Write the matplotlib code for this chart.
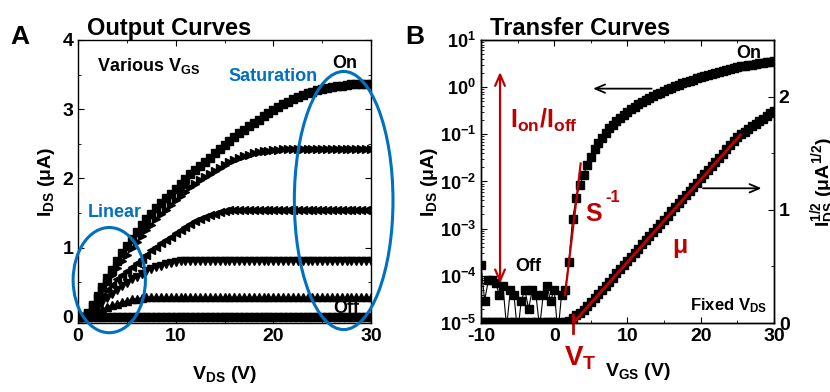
import numpy as np
import matplotlib
matplotlib.use("Agg")
import matplotlib.pyplot as plt
from matplotlib.patches import Ellipse
from matplotlib.ticker import LogLocator, FixedLocator, FuncFormatter, NullFormatter

plt.rcParams['font.family'] = ['Liberation Sans', 'DejaVu Sans']
plt.rcParams['font.weight'] = 'bold'
plt.rcParams['mathtext.fontset'] = 'custom'
plt.rcParams['mathtext.rm'] = 'Liberation Sans:bold'
plt.rcParams['mathtext.bf'] = 'Liberation Sans:bold'
plt.rcParams['mathtext.it'] = 'Liberation Sans:bold'
plt.rcParams['axes.unicode_minus'] = False
plt.rcParams['axes.linewidth'] = 1.0

RED = '#c00000'
BLUE = '#0070c0'

# ---- panel A: output curves, V_DS from 0 to 30 V in 0.5 V steps
vds = np.arange(0, 30.5, 0.5)

ids_on = [0, 0, 0.05, 0.17, 0.30, 0.43, 0.56, 0.68, 0.80, 0.92, 1.03, 1.13, 1.23, 1.32, 1.41,
          1.49, 1.57, 1.64, 1.71, 1.78, 1.85, 1.92, 1.99, 2.06, 2.12, 2.18, 2.24, 2.30, 2.36,
          2.42, 2.48, 2.54, 2.60, 2.65, 2.70, 2.75, 2.80, 2.85, 2.90, 2.95, 2.99, 3.03, 3.07,
          3.11, 3.14, 3.17, 3.20, 3.23, 3.25, 3.27, 3.29, 3.31, 3.32, 3.33, 3.34, 3.35, 3.36,
          3.36, 3.37, 3.37, 3.37]
ids_g4 = [0, 0, 0.04, 0.15, 0.27, 0.38, 0.49, 0.60, 0.70, 0.80, 0.90, 0.99, 1.08, 1.17, 1.25,
          1.33, 1.41, 1.48, 1.55, 1.62, 1.69, 1.75, 1.81, 1.87, 1.92, 1.97, 2.02, 2.07, 2.11,
          2.15, 2.19, 2.23, 2.26, 2.29, 2.32, 2.34, 2.36, 2.38, 2.39, 2.40, 2.41, 2.41, 2.42,
          2.42, 2.42, 2.42, 2.42, 2.42, 2.42, 2.42, 2.42, 2.42, 2.42, 2.42, 2.42, 2.42, 2.42,
          2.42, 2.42, 2.42, 2.42]
ids_g3 = [0, 0, 0.03, 0.12, 0.21, 0.30, 0.38, 0.46, 0.54, 0.60, 0.66, 0.72, 0.78, 0.84, 0.90,
          0.96, 1.01, 1.06, 1.11, 1.16, 1.21, 1.26, 1.30, 1.34, 1.38, 1.41, 1.44, 1.47, 1.49,
          1.51, 1.53, 1.54, 1.55, 1.55, 1.55, 1.55, 1.55, 1.55, 1.55, 1.55, 1.55, 1.55, 1.55,
          1.55, 1.55, 1.55, 1.55, 1.55, 1.55, 1.55, 1.55, 1.55, 1.55, 1.55, 1.55, 1.55, 1.55,
          1.55, 1.55, 1.55, 1.55]
ids_g2 = [0, 0, 0.03, 0.09, 0.15, 0.21, 0.27, 0.33, 0.39, 0.44, 0.49, 0.54, 0.58, 0.62, 0.66,
          0.69, 0.72, 0.74, 0.76, 0.78, 0.79, 0.80, 0.80, 0.80, 0.80, 0.80, 0.80, 0.80, 0.80,
          0.80, 0.80, 0.80, 0.80, 0.80, 0.80, 0.80, 0.80, 0.80, 0.80, 0.80, 0.80, 0.80, 0.80,
          0.80, 0.80, 0.80, 0.80, 0.80, 0.80, 0.80, 0.80, 0.80, 0.80, 0.80, 0.80, 0.80, 0.80,
          0.80, 0.80, 0.80, 0.80]
ids_g1 = [0, 0, 0.02, 0.05, 0.08, 0.11, 0.14, 0.17, 0.19, 0.21, 0.23, 0.25, 0.26, 0.27, 0.28,
          0.28, 0.28, 0.28, 0.28, 0.28, 0.28, 0.28, 0.28, 0.28, 0.28, 0.28, 0.28, 0.28, 0.28,
          0.28, 0.28, 0.28, 0.28, 0.28, 0.28, 0.28, 0.28, 0.28, 0.28, 0.28, 0.28, 0.28, 0.28,
          0.28, 0.28, 0.28, 0.28, 0.28, 0.28, 0.28, 0.28, 0.28, 0.28, 0.28, 0.28, 0.28, 0.28,
          0.28, 0.28, 0.28, 0.28]
ids_off = [0.0] * len(vds)

output_curves = [(ids_on, 's'), (ids_g4, '>'), (ids_g3, '<'), (ids_g2, 'v'), (ids_g1, '^'),
                 (ids_off, 's')]

# ---- panel B: transfer curve, V_GS from -10 to 30 V in 0.5 V steps
vgs = np.arange(-10, 30.5, 0.5)
ids_transfer = [1.7e-4, 3e-5, 8e-5, 8e-5, 7e-5, 4e-5, 6e-5, 8e-6, 5e-5, 4e-5, 6e-6, 3e-5,
                5e-5, 2e-5, 5e-5, 4e-5, 8e-6, 4e-5, 6e-5, 3e-5, 5e-5, 6e-6, 4e-5, 5e-5,
                2.0e-4, 1.6e-3, 4.5e-3, 8.5e-3, 1.4e-2, 2.2e-2, 3.3e-2, 4.8e-2, 0.065, 0.085,
                0.108, 0.133, 0.161, 0.192, 0.225, 0.261, 0.300, 0.341, 0.385, 0.432, 0.481,
                0.533, 0.588, 0.645, 0.705, 0.767, 0.833, 0.901, 0.971, 1.044, 1.120, 1.199,
                1.280, 1.364, 1.451, 1.540, 1.632, 1.727, 1.824, 1.924, 2.026, 2.132, 2.240,
                2.350, 2.463, 2.579, 2.698, 2.78, 2.86, 2.94, 3.02, 3.10, 3.18, 3.26, 3.34,
                3.43, 3.52]

fig = plt.figure(figsize=(8.3, 3.92), dpi=100)

# ================= panel A
axA = fig.add_axes([0.094, 0.176, 0.353, 0.722])
for ids, mk in output_curves:
    axA.plot(vds, ids, color='black', lw=1, marker=mk, ms=5.5, mec='black', mfc='black')

axA.set_xlim(0, 30)
axA.set_ylim(-0.09, 4)
axA.set_xticks([0, 10, 20, 30])
axA.set_yticks([0, 1, 2, 3, 4])
axA.xaxis.set_minor_locator(FixedLocator([5, 15, 25]))
axA.yaxis.set_minor_locator(FixedLocator([0.5, 1.5, 2.5, 3.5]))
axA.tick_params(which='both', direction='in', top=True, right=True, labelsize=14)
axA.tick_params(which='major', length=4)
axA.tick_params(which='minor', length=2.5)
axA.set_xlabel(r'V$_{\mathbf{DS}}$ (V)', fontsize=14, fontweight='bold', labelpad=14)
axA.set_ylabel(r'I$_{\mathbf{DS}}$ ($\mathbf{\mu}$A)', fontsize=14, fontweight='bold', labelpad=4)
axA.set_title('Output Curves', fontsize=17, fontweight='bold', loc='left', x=0.03, pad=2)

axA.add_patch(Ellipse((3.2, 0.53), 7.4, 1.52, fill=False, ec=BLUE, lw=2.2, clip_on=False, zorder=5))
axA.add_patch(Ellipse((27.2, 1.68), 10.1, 3.73, fill=False, ec=BLUE, lw=2.2, clip_on=False, zorder=5))
axA.text(1.9, 3.63, r'Various V$_{\mathbf{GS}}$', fontsize=13, fontweight='bold', va='center')
axA.text(20.0, 3.47, 'Saturation', fontsize=13, fontweight='bold', color=BLUE, ha='center', va='center')
axA.text(3.8, 1.5, 'Linear', fontsize=13, fontweight='bold', color=BLUE, ha='center', va='center')
axA.text(27.3, 3.66, 'On', fontsize=13, fontweight='bold', ha='center', va='center')
axA.text(27.5, 0.12, 'Off', fontsize=13, fontweight='bold', ha='center', va='center')
fig.text(0.012, 0.905, 'A', fontsize=19, fontweight='bold', va='center')

# ================= panel B
axB = fig.add_axes([0.5795, 0.176, 0.353, 0.722])
axB.semilogy(vgs, ids_transfer, color='black', lw=0.8, marker='s', ms=5.5)
axB.set_xlim(-10, 30)
axB.set_ylim(1e-5, 1e1)
axB.set_xticks([-10, 0, 10, 20, 30])
axB.xaxis.set_minor_locator(FixedLocator([-5, 5, 15, 25]))
axB.yaxis.set_major_locator(LogLocator(base=10, numticks=10))
axB.yaxis.set_minor_locator(LogLocator(base=10, subs=np.arange(2, 10), numticks=20))
axB.yaxis.set_minor_formatter(NullFormatter())
axB.yaxis.set_major_formatter(FuncFormatter(lambda v, p: r'$\mathbf{10^{%d}}$' % round(np.log10(v))))
axB.tick_params(which='both', direction='in', top=True, labelsize=14)
axB.tick_params(axis='y', labelsize=13)
axB.tick_params(which='major', length=4)
axB.tick_params(which='minor', length=2)
axB.set_xlabel(r'V$_{\mathbf{GS}}$ (V)', fontsize=14, fontweight='bold')
axB.xaxis.set_label_coords(0.535, -0.135)
axB.set_ylabel(r'I$_{\mathbf{DS}}$ ($\mathbf{\mu}$A)', fontsize=14, fontweight='bold', labelpad=0)
axB.set_title('Transfer Curves', fontsize=17, fontweight='bold', loc='left', x=0.03, pad=2)

axR = axB.twinx()
axR.plot(vgs, np.sqrt(ids_transfer), color='black', lw=0.8, marker='s', ms=5.5)
axR.set_ylim(0, 2.5)
axR.set_yticks([0, 1, 2])
axR.yaxis.set_minor_locator(FixedLocator([0.5, 1.5, 2.5]))
axR.tick_params(which='both', direction='in', labelsize=14)
axR.tick_params(which='major', length=4)
axR.tick_params(which='minor', length=2.5)
axR.set_ylabel(r'I$_{\mathbf{DS}}^{\mathbf{1/2}}$ ($\mathbf{\mu}$A$^{\mathbf{1/2}}$)',
               fontsize=14, fontweight='bold', labelpad=14)

# red annotations
axB.plot([1.47, 3.61], [3.9e-5, 0.024], color=RED, lw=1.6, zorder=4)
axR.plot([2.6, 25.4], [0.0, 1.66], color=RED, lw=2.0, zorder=4)
axR.plot([2.6, 2.6], [-0.09, 0.07], color=RED, lw=2.0, clip_on=False)
axB.annotate('', xy=(-7.4, 2.1), xytext=(-7.4, 6.9e-5),
             arrowprops=dict(arrowstyle='<->,head_length=0.8,head_width=0.35', color=RED, lw=1.6,
                             shrinkA=0, shrinkB=0))
axB.text(-6.1, 0.2, r'I$_{\mathbf{on}}$/I$_{\mathbf{off}}$', fontsize=18, fontweight='bold',
         color=RED, va='center')
axB.text(4.2, 2e-3, 'S', fontsize=18, fontweight='bold', color=RED, va='center')
axB.text(7.0, 4.5e-3, '-1', fontsize=12, fontweight='bold', color=RED, va='center')
axR.text(17.2, 0.66, r'$\mathbf{\mu}$', fontsize=18, color=RED, ha='center', va='center')
axB.text(3.6, 1.8e-6, r'V$_{\mathbf{T}}$', fontsize=20, fontweight='bold', color=RED,
         ha='center', va='center', clip_on=False)

# black arrows and labels
axB.annotate('', xy=(5.3, 0.93), xytext=(13.3, 0.93),
             arrowprops=dict(arrowstyle='->,head_length=0.7,head_width=0.3', color='black', lw=1.3,
                             shrinkA=0, shrinkB=0))
axR.annotate('', xy=(28.3, 1.19), xytext=(20.3, 1.19),
             arrowprops=dict(arrowstyle='->,head_length=0.7,head_width=0.3', color='black', lw=1.3,
                             shrinkA=0, shrinkB=0))
axB.text(-3.6, 1.6e-4, 'Off', fontsize=13, fontweight='bold', va='center', ha='center')
axB.text(26.5, 5.2, 'On', fontsize=13, fontweight='bold', va='center', ha='center')
axR.text(29.0, 0.15, r'Fixed V$_{\mathbf{DS}}$', fontsize=12, fontweight='bold', ha='right', va='center')
fig.text(0.488, 0.905, 'B', fontsize=19, fontweight='bold', va='center')

fig.savefig('out.png', dpi=100)
